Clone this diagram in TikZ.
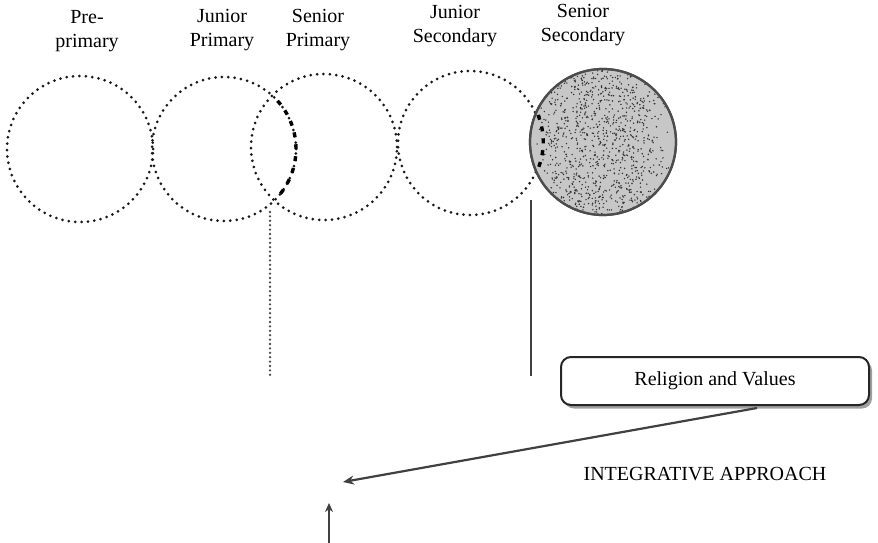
\documentclass[tikz,border=0pt]{standalone}
\usepackage{fontspec}
\setmainfont{Liberation Serif}
\usetikzlibrary{arrows.meta,shadows}
\begin{document}
\begin{tikzpicture}[x=1pt,y=-1pt,
  lbl/.style={font=\fontsize{20}{24}\selectfont, align=center, text=black},
  dotcirc/.style={draw=black!90, line width=3pt, line cap=round, dash pattern=on 0pt off 6.4pt},
  dashcirc/.style={draw=black, line width=3.4pt, dash pattern=on 5pt off 7pt},
  conn/.style={draw=black!75, line width=2.2pt}]
\useasboundingbox (0,0) rectangle (878,543);
% labels
\node[lbl] (lpre) at (87,31) {Pre-\\primary};
\node[lbl] (ljp) at (222,30) {Junior\\Primary};
\node[lbl] (lsp) at (318,30) {Senior\\Primary};
\node[lbl] (ljs) at (455,26) {Junior\\Secondary};
\node[lbl] (lss) at (583,25) {Senior\\Secondary};
% circles
\node[circle, minimum size=146pt, dotcirc] (cpre) at (80,149) {};
\node[circle, minimum size=144pt, dotcirc] (cjp) at (224,149) {};
\node[circle, minimum size=146pt, dotcirc] (csp) at (324,147) {};
\node[circle, minimum size=144pt, dotcirc] (cjs) at (470,143) {};
\node[circle, minimum size=146pt, draw=black!70, line width=2.2pt, fill=black!22] (css) at (603,142) {};
\begin{scope}
\clip (603,142) circle (72pt);
\pgfmathsetseed{7}
\foreach \i in {1,...,1100}{
  \pgfmathsetmacro{\xx}{603+rnd*110-55+ (rnd-0.5)*30}
  \pgfmathsetmacro{\yy}{142+rnd*150-75}
  \fill[black!80] (\xx,\yy) circle (0.8pt);
}
\end{scope}
\draw[draw=black!70, line width=2.2pt] (css) circle (73pt);
% overlap arcs drawn dashed
\draw[dashcirc] ([shift={(42:72pt)}]224,149) arc[start angle=42, end angle=-40, radius=72pt];
\draw[dashcirc] (538,115) arc[start angle=22, end angle=-24, radius=72pt];
% connectors
\coordinate (dtop) at (270,212);
\coordinate (dbot) at (270,378);
\draw[draw=black!70, line width=2.6pt, line cap=round, dash pattern=on 0pt off 4.4pt] (dtop) -- (dbot);
\coordinate (stop) at (531,200);
\coordinate (sbot) at (531,376);
\draw[conn] (stop) -- (sbot);
% box
\node[draw=black!85, line width=2pt, rounded corners=10pt, minimum width=308pt, minimum height=48pt,
  drop shadow={shadow xshift=3pt, shadow yshift=-3.5pt, fill=black!75}, fill=white,
  font=\fontsize{20}{24}\selectfont] (rv) at (715,381) {Religion and Values};
\node[font=\fontsize{20}{24}\selectfont, text=black] (ia) at (705,474) {INTEGRATIVE APPROACH};
\coordinate (ahead) at (343,482);
\draw[conn, -{Stealth[length=11pt,width=9pt]}] (757,408) -- (ahead);
\coordinate (ubot) at (329,543);
\coordinate (utop) at (329,503);
\draw[conn, -{Stealth[length=9pt,width=8pt]}] (ubot) -- (utop);
\end{tikzpicture}
\end{document}
